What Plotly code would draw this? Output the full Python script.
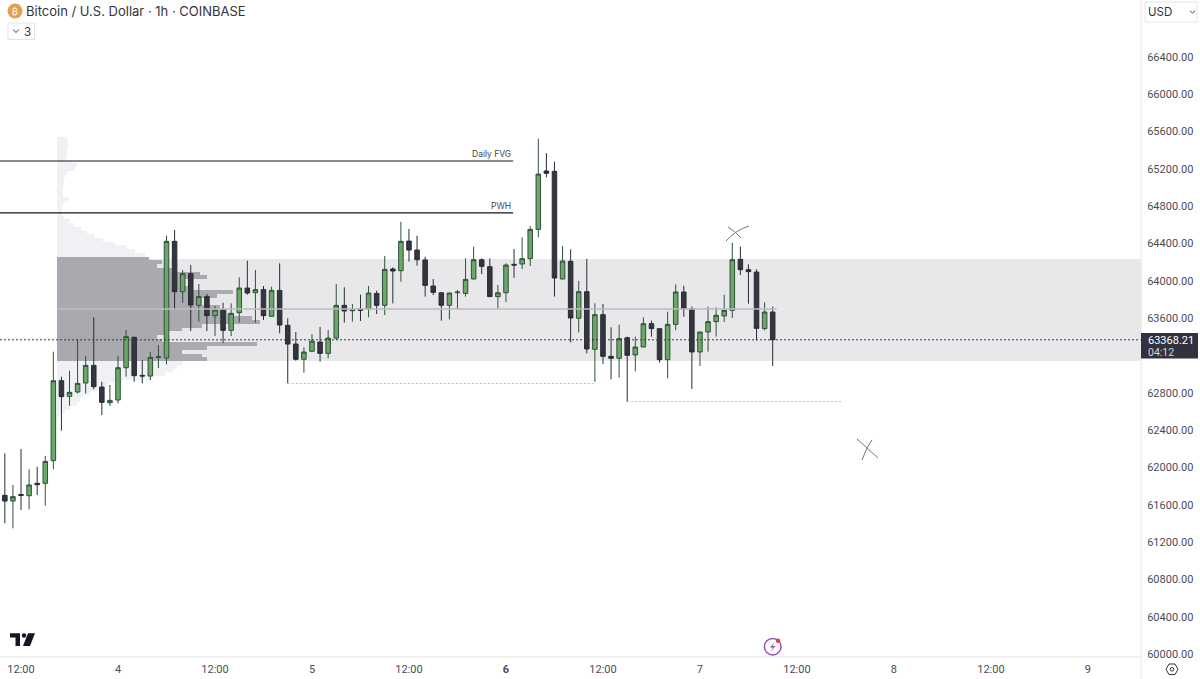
"""
BTC/USD 1h candles with a volume profile, redrawn in Plotly.
"""

from datetime import datetime, timedelta

import plotly.graph_objects as go

FIRST_BAR = datetime(2024, 5, 3, 10)

opens = [61701, 61640, 61710, 61697, 61830, 61830, 62073, 62930, 62762, 62809, 62905, 63094,
         62862, 62694, 62723, 63069, 63395, 62987, 62980, 63180, 63173, 64424, 63884, 64077,
         63738, 63831, 63627, 63684, 63470, 63659, 63923, 63873, 63906, 63620, 63898, 63523,
         63323, 63159, 63245, 63345, 63223, 63387, 63738, 63680, 63698, 63702, 63866, 63738,
         64127, 64109, 64427, 64331, 64224, 63945, 63873, 63738, 63873, 63866, 64020, 64227,
         64152, 63831, 63873, 64177, 64181, 64238, 64552, 65178, 65174, 64020, 64210, 63599,
         63884, 63266, 63638, 63191, 63170, 63391, 63206, 63291, 63541, 63488, 63155, 63534,
         63881, 63699, 63238, 63452, 63563, 63624, 63684, 64231, 64120, 64095, 63488, 63666]
highs = [62151, 61812, 62198, 61980, 62008, 62123, 63241, 62973, 63037, 63366, 63194, 63609,
         62919, 62884, 63194, 63473, 63402, 63152, 63237, 63312, 64484, 64545, 64116, 64170,
         63966, 63859, 63730, 63766, 63759, 64038, 64216, 64116, 63945, 63938, 64188, 63598,
         63452, 63287, 63430, 63505, 63473, 63966, 63931, 63752, 63852, 63945, 63895, 64266,
         64145, 64634, 64556, 64484, 64259, 64020, 63873, 63873, 63902, 64241, 64366, 64241,
         64241, 63956, 64188, 64341, 64466, 64588, 65524, 65370, 65278, 64374, 64338, 63999,
         64235, 63759, 63752, 63502, 63531, 63402, 63402, 63609, 63574, 63488, 63670, 63963,
         63949, 63724, 63452, 63724, 63716, 63852, 64410, 64367, 64177, 64124, 63770, 63724]
lows = [61401, 61347, 61544, 61551, 61705, 61590, 61980, 62394, 62662, 62794, 62794, 62837,
        62562, 62659, 62687, 62973, 62919, 62901, 62937, 63066, 63105, 63688, 63766, 63462,
        63563, 63462, 63409, 63337, 63409, 63552, 63852, 63552, 63580, 63616, 63437, 62901,
        63144, 63016, 63241, 63134, 63170, 63366, 63552, 63563, 63570, 63609, 63645, 63634,
        63759, 63991, 64206, 64163, 63831, 63848, 63573, 63587, 63698, 63831, 64016, 64073,
        63831, 63705, 63773, 64034, 64127, 64159, 64467, 65110, 63831, 64017, 63341, 63448,
        63223, 62916, 63109, 62945, 62963, 62705, 63030, 63291, 63402, 63123, 62955, 63470,
        63616, 62841, 63088, 63241, 63402, 63559, 63602, 64063, 63756, 63363, 63470, 63088]
closes = [61640, 61687, 61700, 61812, 61815, 62065, 62930, 62759, 62805, 62901, 63094, 62866,
          62698, 62719, 63069, 63402, 62984, 62980, 63180, 63187, 64424, 63884, 64077, 63741,
          63831, 63627, 63688, 63470, 63652, 63923, 63870, 63906, 63627, 63898, 63527, 63323,
          63159, 63237, 63355, 63223, 63387, 63738, 63677, 63688, 63684, 63870, 63738, 64123,
          64106, 64424, 64331, 64227, 63952, 63877, 63738, 63870, 63880, 64016, 64227, 64156,
          63831, 63873, 64170, 64170, 64238, 64552, 65145, 65153, 64031, 64213, 63602, 63884,
          63270, 63638, 63191, 63170, 63381, 63202, 63291, 63541, 63488, 63155, 63534, 63881,
          63702, 63238, 63452, 63563, 63631, 63684, 64227, 64120, 64099, 63491, 63666, 63368.21]

profile_prices = [65520, 65480, 65440, 65400, 65360, 65320, 65280, 65240, 65200, 65160, 65120,
                  65080, 65040, 65000, 64960, 64920, 64880, 64840, 64800, 64760, 64720, 64680,
                  64640, 64600, 64560, 64520, 64480, 64440, 64400, 64360, 64320, 64280, 64240,
                  64200, 64160, 64120, 64080, 64040, 64000, 63960, 63920, 63880, 63840, 63800,
                  63760, 63720, 63680, 63640, 63600, 63560, 63520, 63480, 63440, 63400, 63360,
                  63320, 63280, 63240, 63200, 63160, 63120, 63080, 63040, 63000, 62960, 62920,
                  62880, 62840, 62800, 62760, 62720, 62680, 62640, 62600, 62560]
profile_volume = [10, 11, 11, 10, 10, 9, 14, 20, 18, 10, 8,
                  7, 7, 6, 6, 6, 12, 8, 5, 5, 5, 7,
                  13, 17, 24, 30, 38, 46, 58, 70, 78, 88, 92,
                  105, 100, 115, 143, 150, 128, 125, 135, 176, 160, 140,
                  143, 163, 170, 175, 195, 203, 145, 125, 110, 100, 105,
                  200, 150, 125, 145, 150, 125, 120, 116, 108, 95, 65,
                  52, 42, 33, 27, 23, 20, 14, 8, 3]

VA_HIGH = 64235
VA_LOW = 63141
POC = 63698
LAST_PRICE = 63368.21
FVG_PRICE = 65285
PWH_PRICE = 64728
SWEEP_LOW_1 = 62901
SWEEP_LOW_2 = 62705

# 63200 sits under the last price tag, so it is left out
price_ticks = [60000, 60400, 60800, 61200, 61600, 62000, 62400, 62800, 63600, 64000,
               64400, 64800, 65200, 65600, 66000, 66400]
time_ticks = ["2024-05-03 12:00", "2024-05-04 00:00", "2024-05-04 12:00", "2024-05-05 00:00",
              "2024-05-05 12:00", "2024-05-06 00:00", "2024-05-06 12:00", "2024-05-07 00:00",
              "2024-05-07 12:00", "2024-05-08 00:00", "2024-05-08 12:00", "2024-05-09 00:00"]
time_labels = ["12:00", "4", "12:00", "5", "12:00", "<b>6</b>", "12:00", "7", "12:00", "8",
               "12:00", "9"]

times = [FIRST_BAR + timedelta(hours=i) for i in range(len(opens))]


# Page pixels to paper coordinates (margins are zero)
def px(x):
    return x / 1200


def py(y):
    return 1 - y / 679


def path(points, close=False):
    cmds = ["M"] + ["L"] * (len(points) - 1)
    s = " ".join(f"{c} {px(x):.5f} {py(y):.5f}" for c, (x, y) in zip(cmds, points))
    return s + (" Z" if close else "")


def curve(p0, ctrl, p1):
    return (f"M {px(p0[0]):.5f} {py(p0[1]):.5f} Q {px(ctrl[0]):.5f} {py(ctrl[1]):.5f} "
            f"{px(p1[0]):.5f} {py(p1[1]):.5f}")


def box(x0, y0, x1, y1, kind="rect", **kwargs):
    return dict(type=kind, xref="paper", yref="paper", x0=px(x0), x1=px(x1),
                y0=py(y0), y1=py(y1), **kwargs)


def circle(x, y, r, **kwargs):
    return box(x - r, y - r, x + r, y + r, kind="circle", **kwargs)


def shape_path(d, **kwargs):
    return dict(type="path", xref="paper", yref="paper", path=d, **kwargs)


def label(x, y, text, size=12, color="#4a4c55", anchor="left", family="Inter"):
    return dict(xref="paper", yref="paper", x=px(x), y=py(y), text=text, showarrow=False,
                xanchor=anchor, yanchor="middle", align=anchor, borderpad=0,
                font=dict(size=size, color=color, family=family))


in_va = [VA_LOW <= p <= VA_HIGH + 5 for p in profile_prices]

fig = go.Figure()
fig.add_trace(go.Bar(y=[p for p, k in zip(profile_prices, in_va) if not k],
                     x=[v for v, k in zip(profile_volume, in_va) if not k],
                     orientation="h", width=40, marker_color="#f0f1f4",
                     marker_line_width=0, xaxis="x", yaxis="y", hoverinfo="skip"))
fig.add_trace(go.Bar(y=[p for p, k in zip(profile_prices, in_va) if k],
                     x=[v for v, k in zip(profile_volume, in_va) if k],
                     orientation="h", width=40, marker_color="#a9a9af",
                     marker_line_width=0, xaxis="x", yaxis="y", hoverinfo="skip"))
fig.add_trace(go.Candlestick(x=times, open=opens, high=highs, low=lows, close=closes,
                             xaxis="x2", yaxis="y", whiskerwidth=0,
                             increasing=dict(fillcolor="#6aa867",
                                             line=dict(color="#31503a", width=1)),
                             decreasing=dict(fillcolor="#33353f",
                                             line=dict(color="#2a2c36", width=1))))


def hline(t0, t1, price, color, width=1, dash="solid"):
    return dict(type="line", xref="x2", yref="y", x0=t0, x1=t1, y0=price, y1=price,
                line=dict(color=color, width=width, dash=dash))


shapes = [
    dict(type="rect", xref="x2", yref="y", x0="2024-05-03 16:30", x1="2024-05-09 06:34",
         y0=VA_LOW, y1=VA_HIGH, fillcolor="#e8e8eb", line_width=0, layer="below"),
    hline("2024-05-03 16:30", "2024-05-07 09:30", POC, "#bdbdc0", 1.5),
    hline("2024-05-03 09:24", "2024-05-06 00:53", FVG_PRICE, "#16171b", 1.2),
    hline("2024-05-03 09:24", "2024-05-06 00:53", PWH_PRICE, "#16171b", 1.2),
    hline("2024-05-04 21:00", "2024-05-06 10:54", SWEEP_LOW_1, "#b9b9b9", 1, "2px,2px"),
    hline("2024-05-06 15:00", "2024-05-07 17:42", SWEEP_LOW_2, "#b9b9b9", 1, "2px,2px"),
    hline("2024-05-03 09:24", "2024-05-09 06:34", LAST_PRICE, "#3a3a42", 1, "2px,2px"),
    # axis borders
    box(1140.5, 0, 1142, 679, fillcolor="#eeeef0", line_width=0),
    box(0, 656.6, 1141, 657.6, fillcolor="#e3e3e5", line_width=0),
    # drawn crosses
    shape_path(curve((726, 241), (736, 230), (749, 226)), line=dict(color="#77777c", width=1)),
    shape_path(curve((728, 227), (735, 231), (741, 238)), line=dict(color="#77777c", width=1)),
    shape_path(curve((857, 439), (866, 447), (878, 458)), line=dict(color="#77777c", width=1)),
    shape_path(curve((872, 440), (866, 448), (862, 460)), line=dict(color="#77777c", width=1)),
    # last price tag
    box(1141, 333, 1198, 358.5, fillcolor="#30323f", line_width=0),
    # header icon and collapse button
    circle(15, 11, 7.5, fillcolor="#e8a04e", line_width=0),
    box(8, 23, 34.5, 39.5, line=dict(color="#e3e3e6", width=1), fillcolor="#ffffff"),
    shape_path(path([(13, 29.5), (16, 32.5), (19, 29.5)]), line=dict(color="#444", width=1)),
    # currency selector
    box(1145, 2, 1197, 22, line=dict(color="#e6e6e8", width=1), fillcolor="#ffffff"),
    shape_path(path([(1190, 11), (1192.5, 13), (1195, 11)]), line=dict(color="#444", width=1)),
    # logo
    shape_path(path([(10, 633.3), (20, 633.3), (20, 646), (15.5, 646), (15.5, 637.5), (10, 637.5)],
                    close=True), fillcolor="#131722", line_width=0),
    circle(24, 635.5, 2.2, fillcolor="#131722", line_width=0),
    shape_path(path([(28, 633.3), (35, 633.3), (30, 646), (23, 646)], close=True),
               fillcolor="#131722", line_width=0),
    # ideas badge
    circle(772.7, 646.7, 8.3, line=dict(color="#9b4fb8", width=1.5), fillcolor="#ffffff"),
    shape_path(path([(774.5, 642), (770, 647.5), (773, 647.5), (771, 651.5), (775.5, 646),
                     (772.5, 646)], close=True), fillcolor="#9b4fb8", line_width=0),
    circle(778, 640.7, 2.2, fillcolor="#d0453f", line_width=0),
    # settings icon
    shape_path(path([(1166, 669.3), (1169, 664), (1175, 664), (1178, 669.3), (1175, 674.6),
                     (1169, 674.6)], close=True), line=dict(color="#333", width=1)),
    circle(1172, 669.3, 1.8, line=dict(color="#333", width=1)),
]

annotations = [
    label(512, 154, "Daily FVG", 8.5, "#44454c", "right"),
    label(512, 206, "PWH", 8.5, "#44454c", "right"),
    label(25, 11, "Bitcoin / U.S. Dollar · 1h · COINBASE", 13, "#33343a"),
    label(15, 11.5, "₿", 9, "#ffffff", "center"),
    label(23, 31.5, "3", 11.5, "#33343a"),
    label(1147, 12, "USD", 11.5, "#33343a"),
    label(1147, 340, "63368.21", 11, "#ffffff", family="Roboto"),
    label(1147, 352, "04:12", 10.5, "#d5d6db", family="Roboto"),
]

fig.update_layout(
    width=1200,
    height=679,
    margin=dict(l=0, r=0, t=0, b=0, autoexpand=False),
    paper_bgcolor="#ffffff",
    plot_bgcolor="#ffffff",
    showlegend=False,
    barmode="overlay",
    bargap=0,
    boxgap=0.2,
    font=dict(family="Inter", size=12, color="#4a4c55"),
    shapes=shapes,
    annotations=annotations,
    xaxis=dict(domain=[0, 1141 / 1200], range=[-57, 1084], visible=False, fixedrange=True),
    xaxis2=dict(overlaying="x", anchor="y", type="date", side="bottom",
                range=["2024-05-03 09:24", "2024-05-09 06:34"],
                rangeslider=dict(visible=False),
                tickmode="array", tickvals=time_ticks, ticktext=time_labels,
                showgrid=False, zeroline=False, showline=False,
                ticks="outside", ticklen=2, tickcolor="rgba(0,0,0,0)",
                tickfont=dict(size=11, color="#4a4c55", family="Roboto")),
    yaxis=dict(domain=[22 / 679, 1], range=[59968, 67011], side="right", anchor="x",
               tickmode="array", tickvals=price_ticks, tickformat=".2f",
               showgrid=False, zeroline=False, showline=False,
               ticks="outside", ticklen=3, tickcolor="rgba(0,0,0,0)",
               tickfont=dict(size=11, color="#4a4c55", family="Roboto")),
)

fig.write_html("out.html", config=dict(displayModeBar=False),
               post_script="document.body.style.margin='0';")
